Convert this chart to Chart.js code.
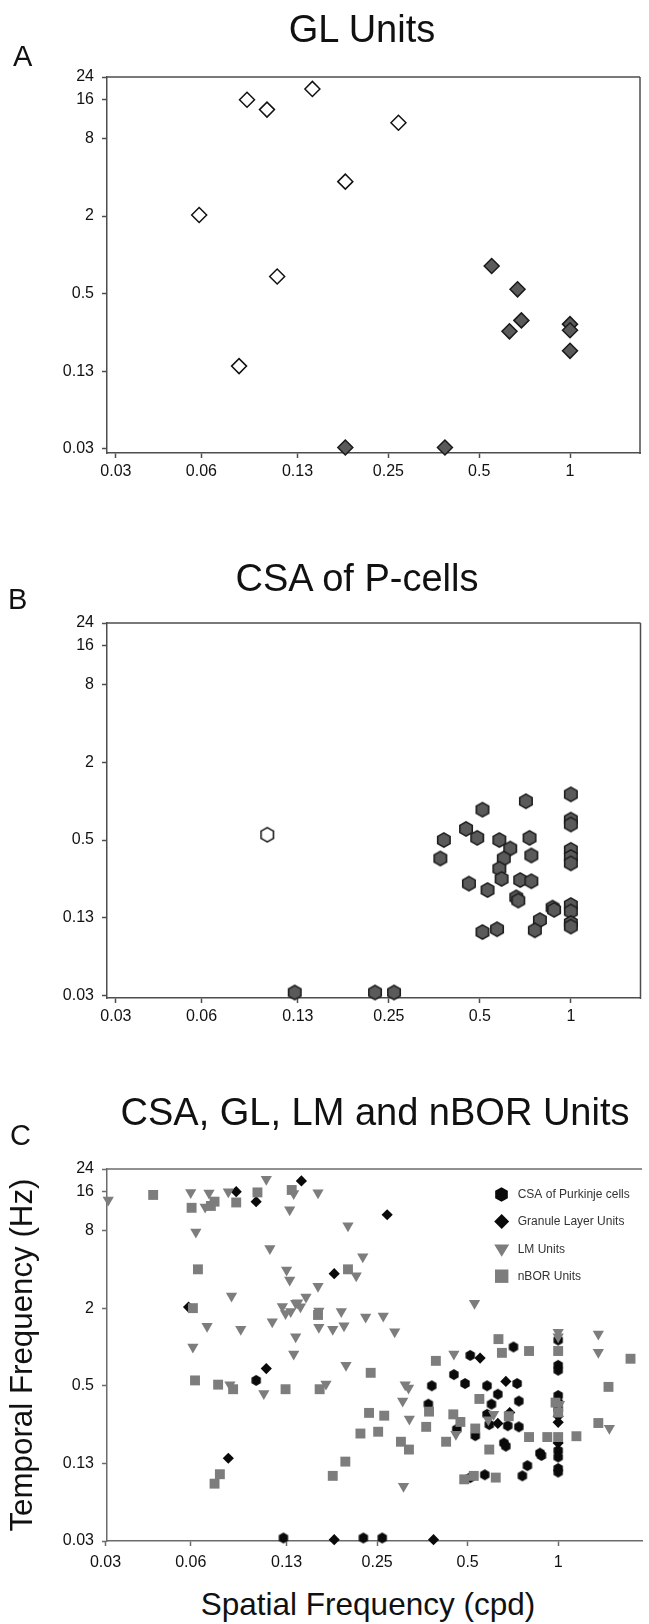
<!DOCTYPE html>
<html>
<head>
<meta charset="utf-8">
<title>Spatial and temporal frequency tuning</title>
<script src="https://cdn.jsdelivr.net/npm/chart.js"></script>
<style>
  html, body { margin: 0; padding: 0; background: #fff; }
  body { width: 649px; height: 1624px; position: relative; overflow: hidden;
         font-family: 'Liberation Sans', Arial, sans-serif; color: #111; }
  .lbl { position: absolute; line-height: 1; white-space: nowrap; }
  .title { font-size: 38px; transform: translateX(-50%); }
  .letter { font-size: 29px; }
  canvas { position: absolute; left: 0; }
</style>
</head>
<body>
<canvas id="chartA" width="649" height="493" style="top:0"></canvas>
<canvas id="chartB" width="649" height="498" style="top:540px"></canvas>
<canvas id="chartC" width="649" height="501" style="top:1080px"></canvas>

<div class="lbl letter" style="left:13px;top:42px">A</div>
<div class="lbl title" style="left:362px;top:10px">GL Units</div>
<div class="lbl letter" style="left:8px;top:585px">B</div>
<div class="lbl title" style="left:357px;top:559px">CSA of P-cells</div>
<div class="lbl letter" style="left:10px;top:1121px">C</div>
<div class="lbl title" style="left:375px;top:1093px">CSA, GL, LM and nBOR Units</div>
<div class="lbl" style="left:368px;top:1589px;font-size:31.5px;transform:translateX(-50%)">Spatial Frequency (cpd)</div>

<script>
/* ticks (log axes, labels as printed) */
const xTickVals = [0.03125, 0.06, 0.125, 0.25, 0.5, 1];
const xTickLabels = ['0.03', '0.06', '0.13', '0.25', '0.5', '1'];
const yTickVals = [0.03125, 0.125, 0.5, 2, 8, 16, 24];
const yTickLabels = ['0.03', '0.13', '0.5', '2', '8', '16', '24'];

/* A: granule layer units (open = fast, filled = slow) */
const glOpenX = [0.085, 0.099, 0.14, 0.27, 0.18, 0.059, 0.107, 0.08];
const glOpenY = [16, 13.4, 19.4, 10.6, 3.7, 2.04, 0.68, 0.137];
const glFillX = [0.55, 0.67, 0.69, 0.63, 1.0, 1.0, 1.0, 0.18, 0.385];
const glFillY = [0.82, 0.54, 0.31, 0.255, 0.29, 0.26, 0.18, 0.032, 0.032];

/* B: complex spike activity of Purkinje cells */
const pcOpenX = [0.099];
const pcOpenY = [0.55];
const pcFillX = [0.122, 0.225, 0.26, 0.38, 0.37, 0.45, 0.49, 0.51, 0.46, 0.53,
                 0.58, 0.63, 0.6, 0.58, 0.59, 0.68, 0.74, 0.73, 0.74, 0.71,
                 0.66, 0.67, 0.87, 0.88, 0.79, 0.76, 0.51, 0.57,
                 1, 1, 1, 1, 1, 1, 1, 1, 1, 1];
const pcFillY = [0.033, 0.033, 0.033, 0.5, 0.36, 0.61, 0.52, 0.86, 0.23, 0.205,
                 0.5, 0.43, 0.36, 0.30, 0.25, 0.245, 0.24, 0.52, 0.38, 1.0,
                 0.18, 0.17, 0.15, 0.144, 0.12, 0.10, 0.097, 0.102,
                 1.13, 0.72, 0.66, 0.42, 0.37, 0.33, 0.157, 0.14, 0.114, 0.107];

/* C: LM and nBOR units (CSA and GL reuse A and B) */
const lmX = [0.0319, 0.06, 0.069, 0.080, 0.067, 0.107, 0.132, 0.128, 0.159, 0.0624,
             0.11, 0.2, 0.224, 0.125, 0.128, 0.213, 0.082, 0.159, 0.145, 0.136,
             0.139, 0.121, 0.124, 0.129, 0.134, 0.068, 0.088, 0.112, 0.19, 0.229,
             0.262, 0.16, 0.178, 0.194, 0.286, 0.061, 0.134, 0.132, 0.527, 0.081,
             0.105, 0.197, 0.169, 0.45, 0.31, 0.318, 0.304, 0.32, 0.306, 0.457,
             0.61, 0.586, 1.0, 1.0, 1.36, 1.36, 1.48, 1.01, 0.16];
const lmY = [13.8, 15.8, 15.6, 16, 12.2, 20, 15.5, 11.6, 15.7, 7.8,
             5.8, 8.7, 5.0, 3.95, 3.3, 3.57, 2.48, 2.96, 2.44, 2.2,
             2.05, 2.06, 1.82, 1.88, 2.18, 1.45, 1.37, 1.57, 1.88, 1.71,
             1.74, 1.42, 1.37, 1.46, 1.31, 1.0, 1.2, 0.88, 2.18, 0.51,
             0.435, 0.72, 0.515, 0.88, 0.51, 0.48, 0.38, 0.276, 0.083, 0.21,
             0.3, 0.273, 1.3, 1.2, 1.26, 0.91, 0.234, 0.36, 1.9];
const nbX = [0.045, 0.100, 0.0604, 0.070, 0.072, 0.085, 0.13, 0.0634, 0.061, 0.2,
             0.159, 0.633, 0.062, 0.074, 0.083, 0.124, 0.075, 0.072, 0.238, 0.161,
             0.392, 0.65, 0.235, 0.264, 0.22, 0.252, 0.30, 0.319, 0.196, 0.178,
             0.372, 0.364, 0.448, 0.473, 0.424, 0.53, 0.547, 0.685, 0.59, 0.487,
             0.524, 0.62, 1.0, 0.98, 1.0, 0.92, 1.0, 0.8, 0.8, 1.15,
             1.74, 1.47, 1.36];
const nbY = [15.1, 15.8, 12.0, 12.4, 13.4, 13.2, 16.5, 4.0, 2.0, 4.0,
             1.77, 1.15, 0.55, 0.51, 0.47, 0.47, 0.103, 0.087, 0.63, 0.47,
             0.78, 0.9, 0.308, 0.293, 0.213, 0.22, 0.184, 0.16, 0.129, 0.1,
             0.315, 0.24, 0.3, 0.262, 0.184, 0.233, 0.395, 0.29, 0.16, 0.094,
             0.1, 0.097, 0.93, 0.37, 0.31, 0.2, 0.2, 0.2, 0.93, 0.203,
             0.81, 0.49, 0.257];
const seriesNames = ['CSA of Purkinje cells', 'Granule Layer Units', 'LM Units', 'nBOR Units'];

/* helpers */
Chart.defaults.font.family = "'Liberation Sans', Arial, sans-serif";
const GREY = '#7d7d7d';
const DARK = '#5a5a5a';

const pts = (xs, ys) => xs.map((x, i) => ({ x, y: ys[i] }));

// pointy-top hexagon as an image point style
const hexImage = (R, fill, stroke, lw) => {
  const w = Math.ceil(Math.sqrt(3) * R + lw + 2), h = Math.ceil(2 * R + lw + 2);
  const c = document.createElement('canvas');
  c.width = w; c.height = h;
  const g = c.getContext('2d');
  g.beginPath();
  for (let k = 0; k < 6; k++) {
    const a = Math.PI / 180 * (60 * k - 90);
    const px = w / 2 + R * Math.cos(a), py = h / 2 + R * Math.sin(a);
    if (k) g.lineTo(px, py); else g.moveTo(px, py);
  }
  g.closePath();
  g.fillStyle = fill; g.fill();
  if (lw) { g.strokeStyle = stroke; g.lineWidth = lw; g.stroke(); }
  return c;
};

const logAxis = (min, max, vals, labels, o) => ({
  type: 'logarithmic', min, max,
  afterBuildTicks: s => { s.ticks = vals.map(v => ({ value: v })); },
  afterFit: s => { if (s.isHorizontal()) s.height = o.size; else s.width = o.size; },
  border: { display: true, color: o.color, width: 1.5 },
  grid: { drawOnChartArea: false, drawTicks: true, tickLength: 5, tickColor: o.color, tickWidth: 1.5 },
  ticks: { autoSkip: false, maxRotation: 0, padding: o.pad, color: '#111',
           font: { size: 16 }, callback: (v, i) => labels[i] },
  title: o.title || { display: false }
});

// top / right lines of the plot box
const framePlugin = {
  id: 'frame',
  beforeDatasetsDraw(chart, args, o) {
    const { ctx, chartArea: a } = chart;
    ctx.save();
    ctx.strokeStyle = o.color; ctx.lineWidth = 1.5;
    ctx.beginPath();
    if (o.top) { ctx.moveTo(a.left, a.top); ctx.lineTo(a.right, a.top); }
    if (o.right) { ctx.moveTo(a.right, a.top); ctx.lineTo(a.right, a.bottom + 1); }
    ctx.stroke();
    ctx.restore();
  }
};

// legend drawn inside the plot (panel C)
const insetLegend = {
  id: 'insetLegend',
  afterDraw(chart, args, o) {
    if (!o.items) return;
    const ctx = chart.ctx;
    ctx.save();
    ctx.font = "12px 'Liberation Sans', Arial, sans-serif";
    ctx.textBaseline = 'middle';
    o.items.forEach((it, i) => {
      const x = o.x, y = o.y + i * o.step, r = it.r;
      ctx.fillStyle = it.color;
      ctx.beginPath();
      if (it.shape === 'hex') {
        ctx.drawImage(it.img, Math.round(x - it.img.width / 2), Math.round(y - it.img.height / 2));
      } else if (it.shape === 'diamond') {
        ctx.moveTo(x - r, y); ctx.lineTo(x, y - r); ctx.lineTo(x + r, y); ctx.lineTo(x, y + r);
      } else if (it.shape === 'tri') {
        ctx.moveTo(x - r, y - r * 0.6); ctx.lineTo(x + r, y - r * 0.6); ctx.lineTo(x, y + r * 1.05);
      } else {
        ctx.rect(x - r, y - r, 2 * r, 2 * r);
      }
      ctx.closePath();
      ctx.fill();
      ctx.fillStyle = '#333';
      ctx.fillText(seriesNames[i], o.textX, y + 0.5);
    });
    ctx.restore();
  }
};

const makeChart = (id, datasets, o) => new Chart(document.getElementById(id), {
  type: 'scatter',
  data: { datasets },
  options: {
    responsive: false, animation: false,
    layout: { padding: o.pad },
    plugins: {
      legend: { display: false }, tooltip: { enabled: false },
      frame: o.frame, insetLegend: o.legend || {}
    },
    scales: {
      x: logAxis(o.xmin, o.xmax, xTickVals, xTickLabels, { size: 40, color: o.axis, pad: o.xpad }),
      y: logAxis(o.ymin, 24, yTickVals, yTickLabels, { size: 107, color: o.axis, pad: 8, title: o.ytitle })
    }
  },
  plugins: [framePlugin, insetLegend]
});

const markers = (data, style, r, fill, stroke, lw, extra) => Object.assign({
  data, pointStyle: style, pointRadius: r, pointHoverRadius: r,
  pointBackgroundColor: fill, pointBorderColor: stroke, pointBorderWidth: lw, clip: false
}, extra || {});

/* A */
makeChart('chartA', [
  markers(pts(glOpenX, glOpenY), 'rectRot', 7.5, '#fff', '#111', 1.5),
  markers(pts(glFillX, glFillY), 'rectRot', 7.5, DARK, '#1a1a1a', 1.5)
], { pad: { top: 77, right: 4, left: 0, bottom: 0 }, xmin: 0.0292, xmax: 1.706, ymin: 0.029,
     axis: '#4d4d4d', xpad: 3.5, frame: { color: '#4d4d4d', top: true, right: true } });

/* B */
makeChart('chartB', [
  markers(pts(pcOpenX, pcOpenY), hexImage(7.2, '#fff', '#111', 1.5), 7, '#fff', '#111', 1.5),
  markers(pts(pcFillX, pcFillY), hexImage(7.2, DARK, '#1a1a1a', 1.5), 7, DARK, '#1a1a1a', 1.5)
], { pad: { top: 83, right: 5, left: 0, bottom: 0 }, xmin: 0.0292, xmax: 1.70, ymin: 0.0299,
     axis: '#4d4d4d', xpad: 3.5, frame: { color: '#4d4d4d', top: true, right: true } });

/* C */
const hexC = hexImage(5.4, '#0a0a0a', '#0a0a0a', 0);
makeChart('chartC', [
  markers(pts(pcOpenX.concat(pcFillX), pcOpenY.concat(pcFillY)), hexC, 5, '#0a0a0a', '#0a0a0a', 0, { order: 4 }),
  markers(pts(glOpenX.concat(glFillX), glOpenY.concat(glFillY)), 'rectRot', 5.6, '#0a0a0a', '#0a0a0a', 0, { order: 3 }),
  markers(pts(lmX, lmY), 'triangle', 6.5, GREY, GREY, 0, { order: 2, pointRotation: 180 }),
  markers(pts(nbX, nbY), 'rect', 7, GREY, GREY, 0, { order: 1 })
], { pad: { top: 89, right: 0, left: 0, bottom: 0 }, xmin: 0.0316, xmax: 1.9, ymin: 0.03125,
     axis: '#6b6b6b', xpad: 7, frame: { color: '#6b6b6b', top: true, right: false },
     ytitle: { display: true, text: 'Temporal Frequency (Hz)', color: '#111',
               font: { size: 31.3 }, padding: { top: 5, bottom: 0 } },
     legend: { x: 501.7, y: 114.3, step: 27.3, textX: 517.7, items: [
       { shape: 'hex', img: hexImage(7.3, '#0a0a0a', '#0a0a0a', 0), color: '#0a0a0a' },
       { shape: 'diamond', r: 7.5, color: '#0a0a0a' },
       { shape: 'tri', r: 7.5, color: GREY },
       { shape: 'square', r: 6.7, color: GREY }
     ] } });
</script>
</body>
</html>
